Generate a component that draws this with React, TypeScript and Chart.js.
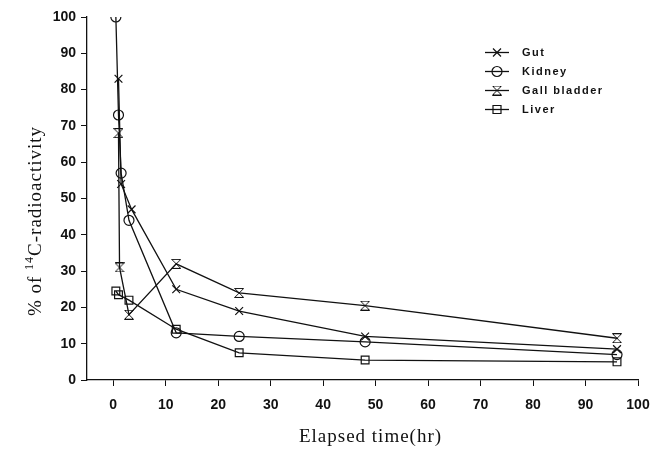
import React, { useEffect, useRef } from 'react';
import { Chart, registerables } from 'chart.js';

Chart.register(...registerables);

// ---- data ----
const seriesNames = ['Gut', 'Kidney', 'Gall bladder', 'Liver'];
const gutTime = [1, 1.5, 3.5, 12, 24, 48, 96];
const gutValues = [83, 54, 47, 25, 19, 12, 8.5];
const kidneyTime = [0.5, 1, 1.5, 3, 12, 24, 48, 96];
const kidneyValues = [100, 73, 57, 44, 13, 12, 10.5, 7];
const gallTime = [1, 1.2, 3, 12, 24, 48, 96];
const gallValues = [68, 31, 18, 32, 24, 20.5, 11.5];
const liverTime = [0.5, 1, 3, 12, 24, 48, 96];
const liverValues = [24.5, 23.5, 22, 14, 7.5, 5.5, 5];
const xTickValues = [0, 10, 20, 30, 40, 50, 60, 70, 80, 90, 100];
const yTickValues = [0, 10, 20, 30, 40, 50, 60, 70, 80, 90, 100];
const xTitle = 'Elapsed time(hr)';
const yTitleParts = ['% of ', '14', 'C-radioactivity'];

const INK = '#111';

function makeHourglass(w: number, h: number): HTMLCanvasElement {
  const c = document.createElement('canvas');
  c.width = w;
  c.height = h;
  const ctx = c.getContext('2d')!;
  ctx.strokeStyle = INK;
  ctx.lineWidth = 1;
  const p = 0.5;
  ctx.beginPath();
  ctx.moveTo(p, p);
  ctx.lineTo(w - p, p);
  ctx.lineTo(p, h - p);
  ctx.lineTo(w - p, h - p);
  ctx.closePath();
  ctx.stroke();
  return c;
}

const pairs = (xs: number[], ys: number[]) => xs.map((x, i) => ({ x, y: ys[i] }));

export default function App() {
  const ref = useRef<HTMLCanvasElement | null>(null);

  useEffect(() => {
    document.body.style.margin = '0';
    const canvas = ref.current!;
    const hourglass = makeHourglass(10, 10);

    const overlay = {
      id: 'overlay',
      afterDraw(chart: any) {
        const ctx: CanvasRenderingContext2D = chart.ctx;
        const ca = chart.chartArea;
        ctx.save();
        ctx.fillStyle = INK;
        ctx.strokeStyle = INK;
        // x title
        ctx.font = '19px "Liberation Serif"';
        (ctx as any).letterSpacing = '1px';
        ctx.textAlign = 'center';
        ctx.textBaseline = 'alphabetic';
        ctx.fillText(xTitle, (ca.left + ca.right) / 2 + 8, 442);
        // y title
        ctx.save();
        ctx.translate(41, 221);
        ctx.rotate(-Math.PI / 2);
        ctx.textAlign = 'left';
        const bigFont = '19px "Liberation Serif"';
        const smallFont = '12px "Liberation Serif"';
        ctx.font = bigFont;
        const w1 = ctx.measureText(yTitleParts[0]).width;
        const w3 = ctx.measureText(yTitleParts[2]).width;
        ctx.font = smallFont;
        const w2 = ctx.measureText(yTitleParts[1]).width;
        let x0 = -(w1 + w2 + w3) / 2;
        ctx.font = bigFont;
        ctx.fillText(yTitleParts[0], x0, 0);
        x0 += w1;
        ctx.font = smallFont;
        ctx.fillText(yTitleParts[1], x0, -8);
        x0 += w2;
        ctx.font = bigFont;
        ctx.fillText(yTitleParts[2], x0, 0);
        ctx.restore();

        // legend
        const ys = [52.5, 71.5, 90.5, 109.5];
        ctx.font = 'bold 11px "Liberation Sans"';
        (ctx as any).letterSpacing = '1.5px';
        ctx.textAlign = 'left';
        ctx.textBaseline = 'middle';
        ctx.lineWidth = 1.3;
        chart.data.datasets.forEach((ds: any, i: number) => {
          const y = ys[i];
          ctx.beginPath();
          ctx.moveTo(485, y);
          ctx.lineTo(509, y);
          ctx.stroke();
          const cx = 497;
          ctx.lineWidth = 1.2;
          ctx.beginPath();
          if (i === 0) {
            const r = 4;
            ctx.moveTo(cx - r, y - r);
            ctx.lineTo(cx + r, y + r);
            ctx.moveTo(cx + r, y - r);
            ctx.lineTo(cx - r, y + r);
            ctx.stroke();
          } else if (i === 1) {
            ctx.arc(cx, y, 5, 0, Math.PI * 2);
            ctx.stroke();
          } else if (i === 2) {
            ctx.drawImage(hourglass, cx - 5, y - 5);
          } else {
            ctx.rect(cx - 4, y - 4, 8, 8);
            ctx.stroke();
          }
          ctx.lineWidth = 1.3;
          ctx.fillText(ds.label, 522, y + 0.5);
        });
        ctx.restore();
      },
    };

    const common = {
      borderColor: INK,
      borderWidth: 1.3,
      backgroundColor: 'rgba(0,0,0,0)',
      pointBorderColor: INK,
      pointBackgroundColor: 'rgba(0,0,0,0)',
      pointBorderWidth: 1.2,
      tension: 0,
      fill: false,
    };

    const chart = new Chart(canvas, {
      type: 'line',
      data: {
        datasets: [
          { ...common, label: seriesNames[0], data: pairs(gutTime, gutValues), pointStyle: 'crossRot', pointRadius: 5.5 },
          { ...common, label: seriesNames[1], data: pairs(kidneyTime, kidneyValues), pointStyle: 'circle', pointRadius: 5 },
          { ...common, label: seriesNames[2], data: pairs(gallTime, gallValues), pointStyle: hourglass as any, pointRadius: 5 },
          { ...common, label: seriesNames[3], data: pairs(liverTime, liverValues), pointStyle: 'rect', pointRadius: 5.5 },
        ] as any,
      },
      options: {
        animation: false,
        responsive: false,
        maintainAspectRatio: false,
        parsing: true,
        layout: { padding: { left: 0, right: 25, top: 17, bottom: 0 } },
        plugins: { legend: { display: false }, tooltip: { enabled: false } },
        scales: {
          x: {
            type: 'linear',
            min: -5,
            max: 100,
            afterBuildTicks: (scale: any) => {
              scale.ticks = xTickValues.map((v) => ({ value: v }));
            },
            afterFit: (scale: any) => {
              scale.height = 72;
            },
            ticks: {
              color: INK,
              padding: 11,
              maxRotation: 0,
              autoSkip: false,
              font: { family: '"Liberation Sans"', size: 14, weight: 'bold' },
            },
            grid: { display: true, drawOnChartArea: false, drawTicks: true, tickLength: 6, color: INK, lineWidth: 1 },
            border: { display: true, color: INK, width: 1.3 },
          },
          y: {
            type: 'linear',
            min: 0,
            max: 100,
            afterBuildTicks: (scale: any) => {
              scale.ticks = yTickValues.map((v) => ({ value: v }));
            },
            afterFit: (scale: any) => {
              scale.width = 87;
            },
            ticks: {
              color: INK,
              padding: 5,
              autoSkip: false,
              font: { family: '"Liberation Sans"', size: 14, weight: 'bold' },
            },
            grid: { display: true, drawOnChartArea: false, drawTicks: true, tickLength: 6, color: INK, lineWidth: 1 },
            border: { display: true, color: INK, width: 1.3 },
          },
        },
      } as any,
      plugins: [overlay],
    });

    return () => chart.destroy();
  }, []);

  return (
    <div style={{ width: 663, height: 452, position: 'relative', background: '#fff' }}>
      <canvas ref={ref} width={663} height={452} style={{ display: 'block', width: 663, height: 452 }} />
    </div>
  );
}
